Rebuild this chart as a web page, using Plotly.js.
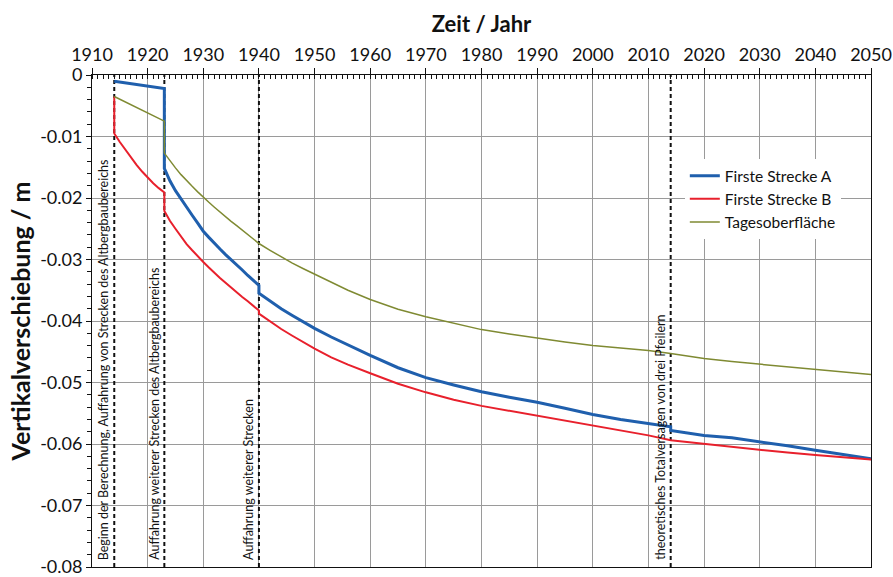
<!DOCTYPE html>
<html>
<head>
<meta charset="utf-8">
<script src="https://cdn.plot.ly/plotly-3.0.1.min.js"></script>
<style>html,body{margin:0;padding:0;background:#fff;}#chart{width:893px;height:577px;}</style>
</head>
<body>
<div id="chart"></div>
<script>
// ---- Data ----
const yearsA = [1914, 1923, 1923, 1924, 1925, 1926, 1927, 1928, 1929, 1930, 1931, 1932, 1933, 1934, 1935, 1936, 1937, 1938, 1939, 1940, 1940, 1942, 1944, 1946, 1948, 1950, 1953, 1956, 1960, 1965, 1970, 1975, 1980, 1985, 1990, 1995, 2000, 2005, 2010, 2014, 2014, 2020, 2025, 2030, 2035, 2040, 2045, 2050];
const dispA  = [-0.0010, -0.0022, -0.0152, -0.0172, -0.0188, -0.0202, -0.0215, -0.0228, -0.0241, -0.0254, -0.0264, -0.0274, -0.0283, -0.0292, -0.0300, -0.0309, -0.0317, -0.0326, -0.0334, -0.0342, -0.0355, -0.0368, -0.0380, -0.0391, -0.0402, -0.0412, -0.0426, -0.0439, -0.0456, -0.0476, -0.0492, -0.0504, -0.0515, -0.0524, -0.0532, -0.0542, -0.0552, -0.0560, -0.0566, -0.0572, -0.0578, -0.0586, -0.0590, -0.0596, -0.0603, -0.0610, -0.0617, -0.0624];

const yearsB = [1914, 1914, 1915, 1916, 1917, 1918, 1919, 1920, 1921, 1922, 1923, 1923, 1924, 1925, 1926, 1927, 1928, 1929, 1930, 1931, 1932, 1933, 1934, 1935, 1936, 1937, 1938, 1939, 1940, 1940, 1942, 1944, 1946, 1948, 1950, 1953, 1956, 1960, 1965, 1970, 1975, 1980, 1985, 1990, 1995, 2000, 2005, 2010, 2014, 2020, 2025, 2030, 2035, 2040, 2045, 2050];
const dispB  = [-0.0035, -0.0095, -0.0109, -0.0122, -0.0134, -0.0146, -0.0157, -0.0167, -0.0176, -0.0184, -0.0191, -0.0221, -0.0237, -0.0250, -0.0263, -0.0275, -0.0285, -0.0295, -0.0304, -0.0313, -0.0322, -0.0330, -0.0338, -0.0346, -0.0353, -0.0361, -0.0368, -0.0376, -0.0383, -0.0388, -0.0401, -0.0413, -0.0424, -0.0435, -0.0445, -0.0459, -0.0471, -0.0485, -0.0502, -0.0516, -0.0528, -0.0538, -0.0546, -0.0554, -0.0562, -0.0571, -0.0579, -0.0586, -0.0594, -0.0600, -0.0605, -0.0610, -0.0614, -0.0618, -0.0621, -0.0625];

const yearsT = [1914, 1923, 1923, 1924, 1925, 1926, 1927, 1928, 1929, 1930, 1931, 1932, 1933, 1934, 1935, 1936, 1937, 1938, 1939, 1940, 1942, 1944, 1946, 1948, 1950, 1953, 1956, 1960, 1965, 1970, 1975, 1980, 1985, 1990, 1995, 2000, 2005, 2010, 2014, 2020, 2025, 2030, 2035, 2040, 2045, 2050];
const dispT  = [-0.0035, -0.0075, -0.0127, -0.0140, -0.0151, -0.0162, -0.0172, -0.0181, -0.0190, -0.0199, -0.0207, -0.0215, -0.0223, -0.0230, -0.0238, -0.0245, -0.0252, -0.0260, -0.0267, -0.0274, -0.0285, -0.0296, -0.0306, -0.0315, -0.0324, -0.0337, -0.0350, -0.0365, -0.0381, -0.0393, -0.0404, -0.0414, -0.0421, -0.0428, -0.0434, -0.0440, -0.0444, -0.0448, -0.0453, -0.0461, -0.0466, -0.0470, -0.0474, -0.0478, -0.0482, -0.0487];

const seriesNames = ["Firste Strecke A", "Firste Strecke B", "Tagesoberfläche"];

const eventYears = [1914, 1923, 1940, 2014];
const eventLabels = [
  "Beginn der Berechnung, Auffahrung von Strecken des Altbergbaubereichs",
  "Auffahrung weiterer Strecken des Altbergbaubereichs",
  "Auffahrung weiterer Strecken",
  "theoretisches Totalversagen von drei Pfeilern"
];

const xRange = [1910, 2050];
const yRange = [-0.08, 0];
const yTickVals = [0, -0.01, -0.02, -0.03, -0.04, -0.05, -0.06, -0.07, -0.08];
const yTickText = ["0", "-0.01", "-0.02", "-0.03", "-0.04", "-0.05", "-0.06", "-0.07", "-0.08"];

// ---- Traces ----
const FONT = "Lato, 'Open Sans', sans-serif";
const traces = [];
eventYears.forEach(function (yr) {
  traces.push({
    x: [yr, yr], y: [yRange[0], yRange[1]], mode: "lines", showlegend: false, hoverinfo: "skip",
    line: { color: "#111", width: 2, dash: "4px,3px" }
  });
});
traces.push({ x: yearsA, y: dispA, name: seriesNames[0], mode: "lines", line: { color: "#1f5fad", width: 3 } });
traces.push({ x: yearsB, y: dispB, name: seriesNames[1], mode: "lines", line: { color: "#e8202c", width: 2 } });
traces.push({ x: yearsT, y: dispT, name: seriesNames[2], mode: "lines", line: { color: "#7f8a32", width: 1.5 } });

const annotations = eventYears.map(function (yr, i) {
  return {
    x: yr, y: yRange[0], xref: "x", yref: "y", text: eventLabels[i], showarrow: false,
    textangle: -90, xanchor: "right", yanchor: "bottom", xshift: -1, yshift: 5,
    font: { family: FONT, size: 12.5, color: "#111" }
  };
});

const layout = {
  width: 893, height: 577,
  margin: { l: 92, r: 22, t: 75, b: 10 },
  paper_bgcolor: "#fff", plot_bgcolor: "#fff",
  font: { family: FONT, color: "#111" },
  showlegend: true,
  legend: {
    x: 0.761, y: 0.829, xanchor: "left", yanchor: "top",
    bgcolor: "#fff", borderwidth: 0,
    font: { family: FONT, size: 15.5, color: "#111" }
  },
  xaxis: {
    side: "top", range: xRange, tick0: 1910, dtick: 10,
    showgrid: true, gridcolor: "#9a9a9a", gridwidth: 1,
    showline: true, linecolor: "#111", linewidth: 1, mirror: true,
    ticks: "outside", ticklen: 6, tickcolor: "#111",
    minor: { dtick: 1, ticks: "inside", ticklen: 4, tickcolor: "#111", showgrid: false },
    tickfont: { family: FONT, size: 18, color: "#111" },
    ticklabeloverflow: "allow",
    zeroline: false,
    title: { text: "Zeit / Jahr", font: { family: FONT, size: 22, color: "#111", weight: "bold" }, standoff: 4 }
  },
  yaxis: {
    range: yRange, tickvals: yTickVals, ticktext: yTickText,
    showgrid: true, gridcolor: "#9a9a9a", gridwidth: 1,
    showline: true, linecolor: "#111", linewidth: 1, mirror: true,
    ticks: "outside", ticklen: 5, tickcolor: "#111",
    minor: { dtick: 0.002, ticks: "outside", ticklen: 4, tickcolor: "#111", showgrid: false },
    tickfont: { family: FONT, size: 18, color: "#111" },
    ticklabeloverflow: "allow",
    zeroline: false,
    title: { text: "Vertikalverschiebung / m", font: { family: FONT, size: 25, color: "#111", weight: "bold" }, standoff: 2 }
  },
  annotations: annotations
};

Plotly.newPlot("chart", traces, layout, { displayModeBar: false, staticPlot: true });
</script>
</body>
</html>
